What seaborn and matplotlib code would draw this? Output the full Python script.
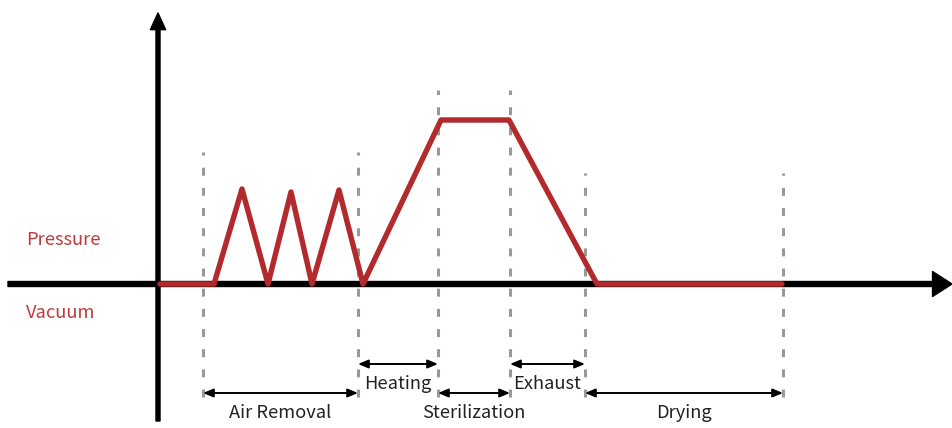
import numpy as np
import pandas as pd
import matplotlib
matplotlib.use('Agg')
import matplotlib.pyplot as plt
import seaborn as sns

# du lieu chu trinh (don vi tuy y, goc tai truc dung)
time_pts = [2, 56, 84, 110, 133, 154, 181, 205, 283, 351, 439, 624]
pressure = [0, 0, 95, 0, 92, 0, 94, 0, 164, 164, 0, 0]

# ranh gioi cac giai doan va do cao duong ke
bounds = [45, 200, 280, 352, 427, 625]
bound_top = [132, 132, 194, 194, 111, 111]
bound_bottom = -113

# cac giai doan: (ten, bat dau, ket thuc, tang)
phases = ['Air Removal', 'Heating', 'Sterilization', 'Exhaust', 'Drying']
phase_start = [45, 200, 280, 352, 427]
phase_end = [200, 280, 352, 427, 625]
phase_row = [1, 0, 1, 0, 1]

sns.set_theme(style='white')
plt.rcParams['font.family'] = ['Noto Sans CJK KR', 'DejaVu Sans']

fig = plt.figure(figsize=(9.52, 4.28), dpi=100)
ax = fig.add_axes([0, 0, 1, 1])

red = '#b32a2c'
grey = '#999999'

# duong ke dut doc
for x, top in zip(bounds, bound_top):
    ax.plot([x, x], [bound_bottom, top], color=grey, lw=2.2,
            ls=(0, (2.6, 4.0)), zorder=1)

# truc toa do
ax.annotate('', xy=(794, 0), xytext=(-150, 0),
            arrowprops=dict(width=3.6, headwidth=18, headlength=14,
                            color='black', shrink=0), zorder=2)
ax.annotate('', xy=(0, 271), xytext=(0, -137),
            arrowprops=dict(width=2.9, headwidth=11, headlength=12,
                            color='black', shrink=0), zorder=2)

# duong ap suat
df = pd.DataFrame({'t': time_pts, 'p': pressure})
sns.lineplot(data=df, x='t', y='p', sort=False, color=red, lw=3.9,
             ax=ax, zorder=3, solid_joinstyle='round', solid_capstyle='round')
ax.axis('off')
ax.set_xlim(-158, 794)
ax.set_ylim(-144, 284)

# nhan Pressure / Vacuum
ax.text(-132, 44, 'Pressure', color='#c0393b', fontsize=13.2,
        ha='left', va='center')
ax.text(-132, -29, 'Vacuum', color='#c0393b', fontsize=13.2,
        ha='left', va='center')

# mui ten cac giai doan
row_y = {0: -80, 1: -109}
for name, s, e, r in zip(phases, phase_start, phase_end, phase_row):
    y = row_y[r]
    ax.annotate('', xy=(e, y), xytext=(s, y),
                arrowprops=dict(arrowstyle='<|-|>,head_length=0.6,head_width=0.25',
                                color='black', lw=1.4, shrinkA=0, shrinkB=0,
                                mutation_scale=10))
    ax.text((s + e) / 2, y - 20, name, fontsize=13.2, color='#222222',
            ha='center', va='center')

fig.savefig('out.png', dpi=100)
